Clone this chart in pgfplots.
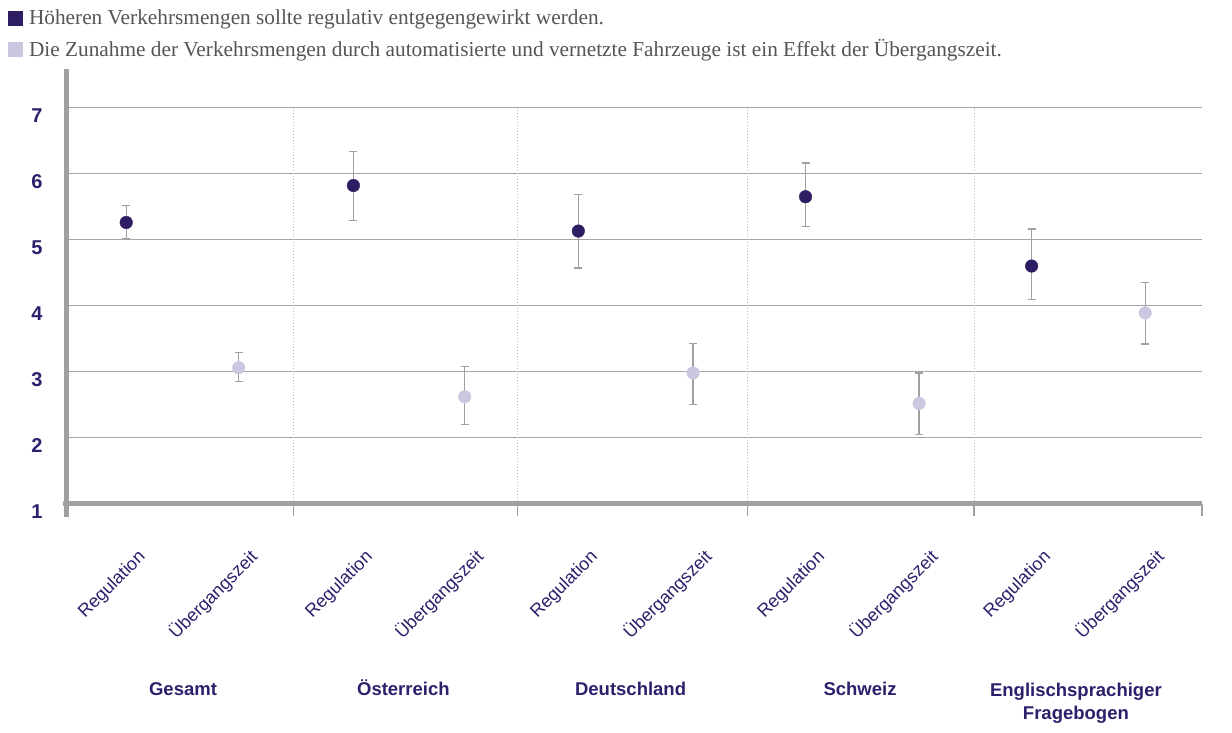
\documentclass[border=0pt]{standalone}
\usepackage{fontspec}
\setmainfont{Liberation Sans}
\newfontfamily\legendserif{Liberation Serif}
\usepackage{pgfplots}
\usepackage{pgfplotstable}
\pgfplotsset{compat=1.18}

% umlauts by code point
\newcommand\UUml{\char220\relax}
\newcommand\OUml{\char214\relax}
\newcommand\ouml{\char246\relax}

\definecolor{regcol}{RGB}{47,29,99}
\definecolor{uebcol}{RGB}{203,199,224}
\definecolor{labcol}{RGB}{44,32,108}
\definecolor{gridcol}{RGB}{166,166,166}
\definecolor{axcol}{RGB}{160,160,160}
\definecolor{errcol}{RGB}{160,160,160}
\definecolor{legtext}{RGB}{85,85,85}

% mean values with upper / lower confidence distance
\pgfplotstableread{
x    y    ep   em
0.53 5.26 0.26 0.24
2.53 5.82 0.52 0.53
4.51 5.13 0.55 0.56
6.51 5.65 0.51 0.45
8.50 4.60 0.56 0.51
}\regdata
\pgfplotstableread{
x    y    ep   em
1.52 3.06 0.23 0.21
3.51 2.62 0.46 0.42
5.52 2.98 0.45 0.48
7.51 2.52 0.46 0.47
9.50 3.89 0.46 0.47
}\uebdata

\tikzset{
  cat/.style={rotate=45, anchor=base east, inner sep=0pt, text=labcol,
    font=\fontsize{18}{18}\selectfont},
  grp/.style={anchor=base, inner sep=0pt, text=labcol,
    font=\fontsize{18.5}{18.5}\selectfont\bfseries},
}

\begin{document}
\begin{tikzpicture}
\useasboundingbox (0pt,0pt) rectangle (1232pt,-733pt);
\begin{axis}[
  at={(66pt,-503.7pt)}, anchor=south west,
  width=1136pt, height=434.4pt, scale only axis,
  xmin=0, xmax=10, ymin=1, ymax=7.58,
  clip=false,
  axis line style={draw=none},
  xtick=\empty,
  ytick={1,...,7},
  ymajorgrids,
  grid style={gridcol, line width=1.3pt},
  major tick length=0pt,
  /pgf/number format/assume math mode=true,
  yticklabel style={font=\fontsize{20}{20}\selectfont\bfseries, text=labcol,
    anchor=east, xshift=-20pt, yshift=-8pt},
  legend style={at={(-0.0511,1.1395)}, anchor=north west, draw=none, fill=none,
    inner sep=0pt, row sep=11.5pt,
    font=\legendserif\fontsize{21.3}{25}\selectfont, text=legtext,
    nodes={inner sep=1pt},
    /tikz/every odd column/.append style={column sep=5.5pt}},
  legend cell align=left,
]
% group separators
\draw[gridcol!75, line width=1pt, dotted] (axis cs:2,1) -- (axis cs:2,7);
\draw[gridcol!75, line width=1pt, dotted] (axis cs:3.973,1) -- (axis cs:3.973,7);
\draw[gridcol!75, line width=1pt, dotted] (axis cs:6,1) -- (axis cs:6,7);
\draw[gridcol!75, line width=1pt, dotted] (axis cs:7.993,1) -- (axis cs:7.993,7);
% axis lines and group ticks
\draw[axcol, line width=5pt] (axis cs:0,7.58) -- (axis cs:0,0.803);
\draw[axcol, line width=5pt] (axis cs:-0.026,1) -- (axis cs:10,1);
\draw[axcol, line width=1.3pt] (axis cs:2,1) -- (axis cs:2,0.81);
\draw[axcol, line width=1.3pt] (axis cs:3.973,1) -- (axis cs:3.973,0.81);
\draw[axcol, line width=1.3pt] (axis cs:6,1) -- (axis cs:6,0.81);
\draw[axcol, line width=1.3pt] (axis cs:7.993,1) -- (axis cs:7.993,0.81);
\draw[axcol, line width=1.3pt] (axis cs:10,1) -- (axis cs:10,0.81);

\addplot[only marks, mark=*, mark size=6.3pt,
  mark options={fill=regcol, draw=regcol, line width=0.4pt},
  legend image code/.code={\fill[regcol] (0pt,-7pt) rectangle (14pt,7pt);},
  error bars/.cd, y dir=both, y explicit,
  error bar style={errcol, line width=1.3pt},
  error mark options={rotate=90, errcol, mark size=4pt, line width=1.3pt}]
  table[x=x, y=y, y error plus=ep, y error minus=em]{\regdata};
\addlegendentry{H\ouml heren Verkehrsmengen sollte regulativ entgegengewirkt werden.}

\addplot[only marks, mark=*, mark size=6.3pt,
  mark options={fill=uebcol, draw=uebcol, line width=0.4pt},
  legend image code/.code={\fill[uebcol] (0pt,-7pt) rectangle (14pt,7pt);},
  error bars/.cd, y dir=both, y explicit,
  error bar style={errcol, line width=1.3pt},
  error mark options={rotate=90, errcol, mark size=4pt, line width=1.3pt}]
  table[x=x, y=y, y error plus=ep, y error minus=em]{\uebdata};
\addlegendentry{Die Zunahme der Verkehrsmengen durch automatisierte und vernetzte Fahrzeuge ist ein Effekt der \UUml bergangszeit.}

% category labels
\node[cat] at ([xshift=20pt,yshift=-54pt]axis cs:0.53,1) {Regulation};
\node[cat] at ([xshift=20pt,yshift=-54pt]axis cs:1.52,1) {\UUml bergangszeit};
\node[cat] at ([xshift=20pt,yshift=-54pt]axis cs:2.53,1) {Regulation};
\node[cat] at ([xshift=20pt,yshift=-54pt]axis cs:3.51,1) {\UUml bergangszeit};
\node[cat] at ([xshift=20pt,yshift=-54pt]axis cs:4.51,1) {Regulation};
\node[cat] at ([xshift=20pt,yshift=-54pt]axis cs:5.52,1) {\UUml bergangszeit};
\node[cat] at ([xshift=20pt,yshift=-54pt]axis cs:6.51,1) {Regulation};
\node[cat] at ([xshift=20pt,yshift=-54pt]axis cs:7.51,1) {\UUml bergangszeit};
\node[cat] at ([xshift=20pt,yshift=-54pt]axis cs:8.50,1) {Regulation};
\node[cat] at ([xshift=20pt,yshift=-54pt]axis cs:9.50,1) {\UUml bergangszeit};

% group labels
\node[grp] at ([yshift=-191.3pt]axis cs:1.03,1) {Gesamt};
\node[grp] at ([yshift=-191.3pt]axis cs:2.97,1) {\OUml sterreich};
\node[grp] at ([yshift=-191.3pt]axis cs:4.97,1) {Deutschland};
\node[grp] at ([yshift=-191.3pt]axis cs:6.99,1) {Schweiz};
\node[grp] at ([yshift=-192.3pt]axis cs:8.89,1) {Englischsprachiger};
\node[grp] at ([yshift=-215.3pt]axis cs:8.89,1) {Fragebogen};
\end{axis}
\end{tikzpicture}
\end{document}
